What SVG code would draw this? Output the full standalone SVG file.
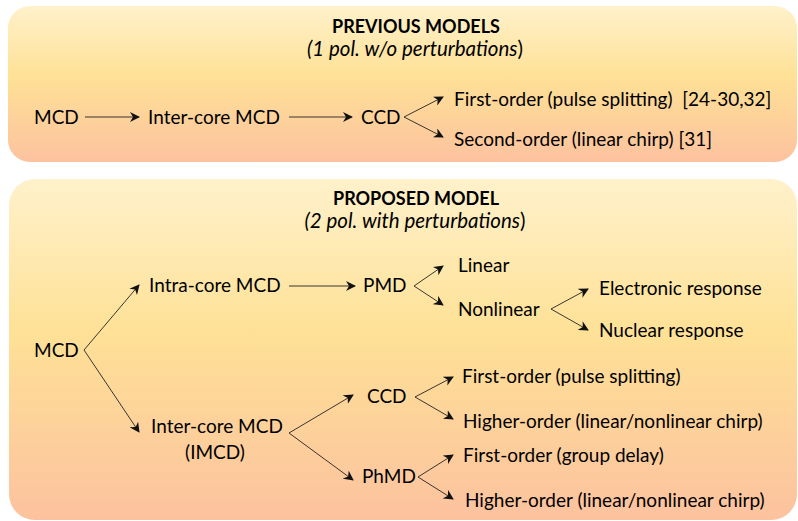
<svg xmlns="http://www.w3.org/2000/svg" width="798" height="521" viewBox="0 0 798 521">
<defs>
<linearGradient id="g" x1="0" y1="0" x2="0" y2="1">
<stop offset="0" stop-color="#FFF1CB"/>
<stop offset="0.45" stop-color="#FEE196"/>
<stop offset="1" stop-color="#FCC29F"/>
</linearGradient>
<marker id="ah" viewBox="0 0 10 10" refX="9" refY="5" markerWidth="10" markerHeight="10" markerUnits="userSpaceOnUse" orient="auto">
<path d="M0,0 L10,5 L0,10 L3,5 z" fill="#111"/>
</marker>
<style>
text{font-family:"Lato","Open Sans","Liberation Sans",sans-serif;font-size:19px;fill:#000}
.t{font-weight:bold;text-anchor:middle;font-size:18px}
.s{font-style:italic;text-anchor:middle;font-size:20.5px}
.c{stroke:#222;stroke-width:0.9;fill:none;marker-end:url(#ah)}
</style>
</defs>
<rect x="8" y="6" width="789" height="156" rx="22" fill="url(#g)"/>
<rect x="9" y="179" width="788" height="341" rx="26" fill="url(#g)"/>
<g id="titles">
<text class="t" x="416" y="33">PREVIOUS MODELS</text>
<text class="s" x="415" y="56">(1 pol. w/o perturbations<tspan font-style="normal">)</tspan></text>
<text class="t" x="416" y="205">PROPOSED MODEL</text>
<text class="s" x="415" y="228">(2 pol. with perturbations<tspan font-style="normal">)</tspan></text>
</g>
<g id="connectors">
<line class="c" x1="85" y1="117" x2="139" y2="117"/>
<line class="c" x1="289" y1="117" x2="352" y2="117"/>
<line class="c" x1="404" y1="117" x2="443" y2="97"/>
<line class="c" x1="404" y1="117" x2="443" y2="137"/>
<line class="c" x1="84" y1="350" x2="139" y2="285"/>
<line class="c" x1="84" y1="350" x2="139" y2="432"/>
<line class="c" x1="289" y1="286" x2="355" y2="286"/>
<line class="c" x1="414" y1="286" x2="443" y2="266"/>
<line class="c" x1="414" y1="286" x2="443" y2="305"/>
<line class="c" x1="551" y1="309" x2="588" y2="289"/>
<line class="c" x1="551" y1="309" x2="588" y2="330"/>
<line class="c" x1="289" y1="433" x2="353" y2="395"/>
<line class="c" x1="289" y1="433" x2="353" y2="480"/>
<line class="c" x1="415" y1="397" x2="453" y2="377"/>
<line class="c" x1="415" y1="397" x2="453" y2="419"/>
<line class="c" x1="418" y1="477" x2="453" y2="455"/>
<line class="c" x1="418" y1="477" x2="453" y2="499"/>
</g>
<g id="n-mcd1"><text x="34" y="124">MCD</text></g>
<g id="n-inter1"><text x="148" y="124">Inter-core MCD</text></g>
<g id="n-ccd1"><text x="361" y="124">CCD</text></g>
<g id="n-first1"><text x="454" y="106" xml:space="preserve">First-order (pulse splitting)  [24-30,32]</text></g>
<g id="n-second1"><text x="454" y="146">Second-order (linear chirp) [31]</text></g>
<g id="n-mcd2"><text x="34" y="357">MCD</text></g>
<g id="n-intra"><text x="149" y="292">Intra-core MCD</text></g>
<g id="n-pmd"><text x="363" y="292">PMD</text></g>
<g id="n-linear"><text x="458" y="272">Linear</text></g>
<g id="n-nonlinear"><text x="458" y="316">Nonlinear</text></g>
<g id="n-elec"><text x="599" y="295">Electronic response</text></g>
<g id="n-nuc"><text x="599" y="337">Nuclear response</text></g>
<g id="n-inter2"><text x="151" y="433">Inter-core MCD</text><text x="215" y="459" text-anchor="middle">(IMCD)</text></g>
<g id="n-ccd2"><text x="367" y="403">CCD</text></g>
<g id="n-phmd"><text x="362" y="483">PhMD</text></g>
<g id="n-first2"><text x="462" y="383">First-order (pulse splitting)</text></g>
<g id="n-higher1"><text x="463" y="428">Higher-order (linear/nonlinear chirp)</text></g>
<g id="n-first3"><text x="463" y="462">First-order (group delay)</text></g>
<g id="n-higher2"><text x="465" y="507">Higher-order (linear/nonlinear chirp)</text></g>
</svg>
